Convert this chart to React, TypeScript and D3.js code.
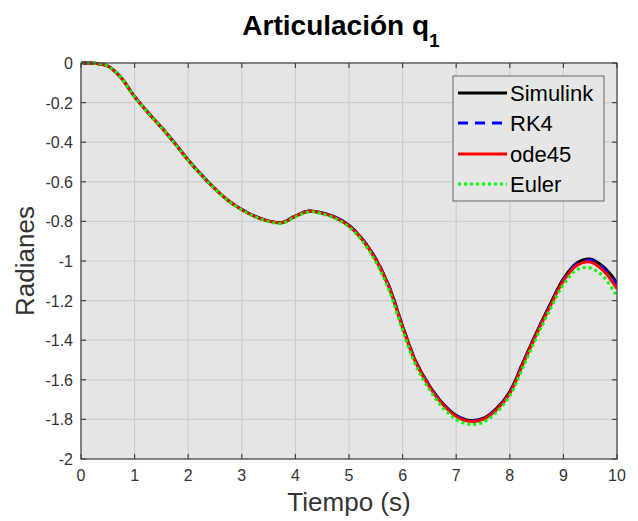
import React, { useEffect, useRef } from "react";
import * as d3 from "d3";

// time samples (s)
const tiempo = [0, 0.25, 0.5, 0.75, 1, 1.25, 1.5, 1.75, 2, 2.25, 2.5, 2.75, 3, 3.25, 3.5, 3.75, 4, 4.25, 4.5, 4.75, 5, 5.25, 5.5, 5.75, 6, 6.25, 6.5, 6.75, 7, 7.25, 7.5, 7.75, 8, 8.25, 8.5, 8.75, 9, 9.25, 9.5, 9.75, 10];

const simulink = [0, -0.001, -0.015, -0.075, -0.17, -0.25, -0.325, -0.405, -0.49, -0.566, -0.635, -0.695, -0.74, -0.775, -0.798, -0.806, -0.773, -0.748, -0.757, -0.78, -0.82, -0.89, -0.99, -1.13, -1.33, -1.51, -1.63, -1.72, -1.78, -1.805, -1.795, -1.745, -1.66, -1.51, -1.36, -1.22, -1.09, -1.01, -0.99, -1.03, -1.11];
const rk4 = [0, -0.001, -0.015, -0.075, -0.17, -0.25, -0.325, -0.405, -0.49, -0.566, -0.635, -0.695, -0.74, -0.775, -0.798, -0.806, -0.773, -0.748, -0.757, -0.78, -0.82, -0.89, -0.99, -1.13, -1.33, -1.51, -1.63, -1.72, -1.78, -1.806, -1.797, -1.747, -1.662, -1.512, -1.362, -1.223, -1.094, -1.015, -0.995, -1.037, -1.12];
const ode45 = [0, -0.001, -0.015, -0.076, -0.171, -0.251, -0.326, -0.406, -0.491, -0.567, -0.636, -0.696, -0.741, -0.776, -0.799, -0.807, -0.774, -0.749, -0.758, -0.782, -0.823, -0.893, -0.994, -1.135, -1.335, -1.515, -1.635, -1.725, -1.785, -1.81, -1.8, -1.752, -1.668, -1.518, -1.368, -1.23, -1.1, -1.022, -1.005, -1.05, -1.14];
const euler = [0, -0.001, -0.015, -0.076, -0.172, -0.252, -0.327, -0.407, -0.492, -0.568, -0.637, -0.697, -0.742, -0.777, -0.801, -0.809, -0.777, -0.752, -0.762, -0.786, -0.828, -0.9, -1.005, -1.15, -1.35, -1.53, -1.65, -1.74, -1.8, -1.825, -1.815, -1.765, -1.68, -1.535, -1.385, -1.245, -1.12, -1.045, -1.035, -1.08, -1.18];

const xTicks = [0, 1, 2, 3, 4, 5, 6, 7, 8, 9, 10];
const yTicks = [0, -0.2, -0.4, -0.6, -0.8, -1, -1.2, -1.4, -1.6, -1.8, -2];

const seriesNames = ["Simulink", "RK4", "ode45", "Euler"];
const seriesValues = [simulink, rk4, ode45, euler];
const seriesColors = ["#000000", "#0000ff", "#ff0000", "#00ff00"];
const seriesDash = [null, "10,7", null, "3,3"];

const App = () => {
  const ref = useRef<SVGSVGElement | null>(null);

  useEffect(() => {
    const W = 638, H = 521;
    const left = 81, right = 617, top = 63, bottom = 459;
    const font = "Liberation Sans, Arial, Helvetica, sans-serif";

    const svg = d3.select(ref.current);
    svg.selectAll("*").remove();
    svg.attr("width", W).attr("height", H);

    svg.append("rect").attr("width", W).attr("height", H).attr("fill", "#ffffff");

    const x = d3.scaleLinear().domain([0, 10]).range([left, right]);
    const y = d3.scaleLinear().domain([-2, 0]).range([bottom, top]);

    // plot background
    svg.append("rect")
      .attr("x", left).attr("y", top)
      .attr("width", right - left).attr("height", bottom - top)
      .attr("fill", "#e5e5e5");

    // grid
    const grid = svg.append("g").attr("stroke", "#cdcdcd").attr("stroke-width", 1.2);
    xTicks.forEach(t => {
      grid.append("line").attr("x1", x(t)).attr("x2", x(t)).attr("y1", top).attr("y2", bottom);
    });
    yTicks.forEach(t => {
      grid.append("line").attr("x1", left).attr("x2", right).attr("y1", y(t)).attr("y2", y(t));
    });

    // curves
    const line = d3.line<number>()
      .x((d, i) => x(tiempo[i]))
      .y(d => y(d))
      .curve(d3.curveCatmullRom);

    const clip = svg.append("clipPath").attr("id", "plotclip");
    clip.append("rect").attr("x", left).attr("y", top - 2).attr("width", right - left).attr("height", bottom - top + 4);

    const curves = svg.append("g").attr("clip-path", "url(#plotclip)");
    seriesValues.forEach((vals, k) => {
      curves.append("path")
        .attr("d", line(vals))
        .attr("fill", "none")
        .attr("stroke", seriesColors[k])
        .attr("stroke-width", 3)
        .attr("stroke-dasharray", seriesDash[k]);
    });

    // axes box + inner ticks
    const axisColor = "#444444";
    svg.append("rect")
      .attr("x", left).attr("y", top)
      .attr("width", right - left).attr("height", bottom - top)
      .attr("fill", "none").attr("stroke", axisColor).attr("stroke-width", 1.2);

    const tk = 5;
    const ticks = svg.append("g").attr("stroke", axisColor).attr("stroke-width", 1.2);
    xTicks.forEach(t => {
      ticks.append("line").attr("x1", x(t)).attr("x2", x(t)).attr("y1", bottom).attr("y2", bottom - tk);
      ticks.append("line").attr("x1", x(t)).attr("x2", x(t)).attr("y1", top).attr("y2", top + tk);
    });
    yTicks.forEach(t => {
      ticks.append("line").attr("x1", left).attr("x2", left + tk).attr("y1", y(t)).attr("y2", y(t));
      ticks.append("line").attr("x1", right).attr("x2", right - tk).attr("y1", y(t)).attr("y2", y(t));
    });

    // tick labels
    svg.append("g").selectAll("text").data(xTicks).join("text")
      .attr("x", d => x(d)).attr("y", bottom + 22)
      .attr("text-anchor", "middle")
      .attr("font-family", font).attr("font-size", 16).attr("fill", "#333333")
      .text(d => String(d));

    svg.append("g").selectAll("text").data(yTicks).join("text")
      .attr("x", left - 8).attr("y", d => y(d) + 6)
      .attr("text-anchor", "end")
      .attr("font-family", font).attr("font-size", 16).attr("fill", "#333333")
      .text(d => String(d));

    // axis labels
    svg.append("text")
      .attr("x", (left + right) / 2).attr("y", 511)
      .attr("text-anchor", "middle")
      .attr("font-family", font).attr("font-size", 26).attr("fill", "#333333")
      .text("Tiempo (s)");

    svg.append("text")
      .attr("transform", `translate(34, ${(top + bottom) / 2}) rotate(-90)`)
      .attr("text-anchor", "middle")
      .attr("font-family", font).attr("font-size", 26).attr("fill", "#333333")
      .text("Radianes");

    // title
    const title = svg.append("text")
      .attr("x", 341).attr("y", 35)
      .attr("text-anchor", "middle")
      .attr("font-family", font).attr("font-weight", "bold").attr("font-size", 28).attr("fill", "#000000");
    title.append("tspan").text("Articulación q");
    title.append("tspan").attr("dy", 12).attr("font-size", 19).text("1");

    // legend
    const lg = svg.append("g");
    lg.append("rect")
      .attr("x", 453).attr("y", 76).attr("width", 151).attr("height", 125)
      .attr("fill", "#e6e6e6").attr("stroke", "#666666").attr("stroke-width", 1);
    const rows = [93, 123, 154, 184];
    seriesNames.forEach((name, k) => {
      lg.append("line")
        .attr("x1", 458).attr("x2", 507).attr("y1", rows[k]).attr("y2", rows[k])
        .attr("stroke", seriesColors[k]).attr("stroke-width", 3)
        .attr("stroke-dasharray", seriesDash[k]);
      lg.append("text")
        .attr("x", 510).attr("y", rows[k] + 8)
        .attr("font-family", font).attr("font-size", 22).attr("fill", "#000000")
        .text(name);
    });
  }, []);

  return (
    <svg ref={ref} style={{ position: "absolute", left: 0, top: 0, display: "block" }}></svg>
  );
};

export default App;
